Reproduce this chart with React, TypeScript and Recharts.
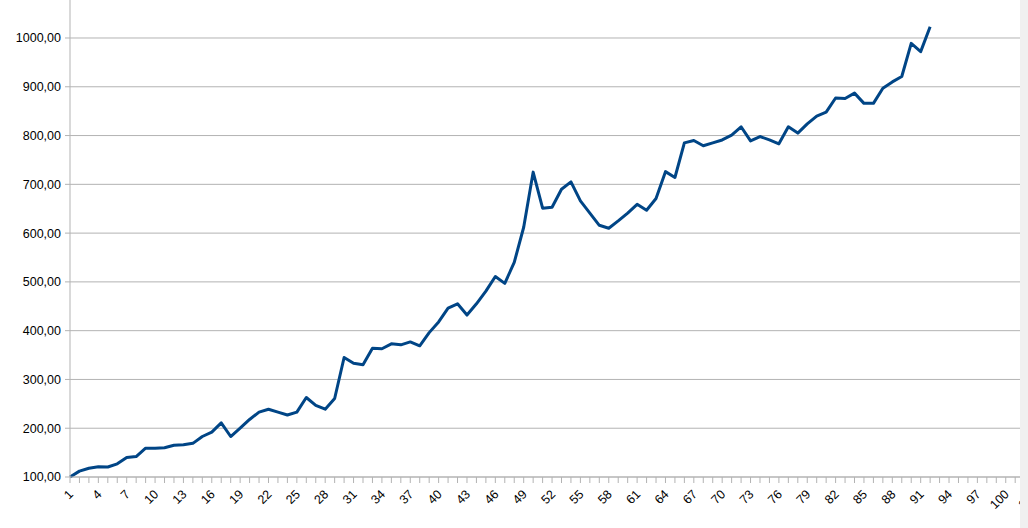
import React from 'react';
import { LineChart, Line, XAxis, YAxis, CartesianGrid } from 'recharts';

const values = [
  100, 112, 118, 121, 120.5, 127, 140, 142, 159, 159,
  160, 165, 166, 169, 183, 192, 211, 183, 200, 218,
  233, 239, 233, 227, 233, 263, 247, 239, 261, 345,
  333, 330, 364, 363, 373, 371, 377, 369, 396, 418,
  446, 455, 432, 455, 481, 511, 497, 540, 612, 725,
  651, 653, 690, 705, 666, 641, 616, 610, 625, 641,
  659, 647, 671, 726, 714, 785, 790, 779, 785, 791,
  801, 818, 789, 798, 791, 783, 818, 805, 824, 840,
  848, 877, 876, 887, 866, 866, 897, 910, 921, 989,
  972, 1023,
];

const categoryCount = 105;
const categories = values.map((_, i) => i + 1);
const xTicks = Array.from({ length: categoryCount }, (_, i) => i + 1);
const xLabelStep = 3;
const yTicks = [100, 200, 300, 400, 500, 600, 700, 800, 900, 1000];

const data = categories.map((c, i) => ({ c, v: values[i] }));

const FONT = '"Liberation Sans", Arial, Helvetica, sans-serif';
const AXIS = '#b3b3b3';

function XTick(props: any) {
  const { x, y, payload } = props;
  const v = payload.value;
  if ((v - 1) % xLabelStep !== 0) return <g />;
  const ax = x + 4;
  const ay = y + 10;
  return (
    <text
      x={ax}
      y={ay}
      textAnchor="end"
      transform={`rotate(-45 ${ax} ${ay})`}
      fontSize={12.5}
      fontFamily={FONT}
      fill="#000"
    >
      {v}
    </text>
  );
}

const fmt = (v: number) => v.toFixed(2).replace('.', ',');

export default function App() {
  return (
    <div
      style={{
        position: 'fixed',
        left: 0,
        top: 0,
        width: 1028,
        height: 528,
        overflow: 'hidden',
        background: '#fff',
      }}
    >
      <div style={{ position: 'absolute', left: 0, top: -20 }}>
        <LineChart
          width={1053}
          height={557}
          data={data}
          margin={{ top: 9.22, right: 0, left: 0, bottom: 0 }}
        >
          <CartesianGrid horizontal vertical={false} stroke={AXIS} strokeWidth={1} />
          <XAxis
            type="number"
            dataKey="c"
            domain={[1, categoryCount]}
            ticks={xTicks}
            interval={0}
            allowDecimals={false}
            height={60}
            tickSize={6}
            tickMargin={2}
            axisLine={{ stroke: AXIS }}
            tickLine={{ stroke: AXIS }}
            tick={(p: any) => <XTick {...p} />}
          />
          <YAxis
            type="number"
            domain={[100, 1100]}
            ticks={yTicks}
            interval={0}
            width={70}
            tickSize={5}
            tickMargin={4}
            tickFormatter={fmt}
            axisLine={{ stroke: AXIS }}
            tickLine={{ stroke: AXIS }}
            tick={{ fill: '#000', fontSize: 12.5, fontFamily: FONT }}
          />
          <Line
            type="linear"
            dataKey="v"
            stroke="#004586"
            strokeWidth={3}
            strokeLinejoin="round"
            dot={false}
            activeDot={false}
            isAnimationActive={false}
          />
        </LineChart>
      </div>
      <div
        style={{
          position: 'absolute',
          left: 1020,
          top: 0,
          width: 8,
          height: 528,
          background: '#f0f0f0',
        }}
      />
    </div>
  );
}
